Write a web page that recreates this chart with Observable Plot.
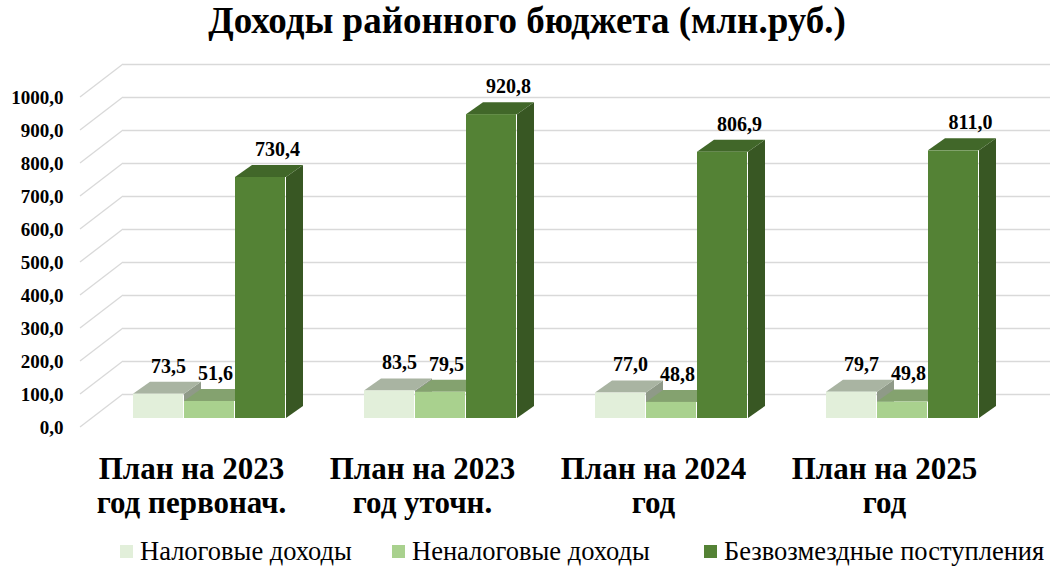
<!DOCTYPE html>
<html><head><meta charset="utf-8">
<script src="https://cdn.jsdelivr.net/npm/d3@7"></script>
<script src="https://cdn.jsdelivr.net/npm/@observablehq/plot@0.6"></script>
<style>
body{margin:0;background:#fff;width:1054px;height:575px;overflow:hidden;font-family:"Times New Roman",Times,"Liberation Serif",Tinos,"Nimbus Roman","Noto Serif","DejaVu Serif",serif;color:#000;}
#title{height:46px;line-height:42px;text-align:center;font-size:37px;font-weight:bold;}
#chart{height:485px;}
#legend{height:44px;position:relative;font-size:26.5px;}
#legend .item{position:absolute;top:0;height:40px;display:flex;align-items:center;white-space:nowrap;}
#legend .sw{width:13px;height:13px;margin-right:7px;}
#chart svg text{font-family:"Times New Roman",Times,"Liberation Serif",Tinos,"Nimbus Roman","Noto Serif","DejaVu Serif",serif;}
</style></head><body>
<div id="title">Доходы районного бюджета (млн.руб.)</div>
<div id="chart"></div>
<div id="legend"></div>
<script>
const categories = ["План на 2023\nгод первонач.", "План на 2023\nгод уточн.", "План на 2024\nгод", "План на 2025\nгод"];
const seriesNames = ["Налоговые доходы", "Неналоговые доходы", "Безвозмездные поступления"];
const taxRevenue = [73.5, 83.5, 77.0, 79.7];
const nonTaxRevenue = [51.6, 79.5, 48.8, 49.8];
const grantsRevenue = [730.4, 920.8, 806.9, 811.0];
const yTicks = [0, 100, 200, 300, 400, 500, 600, 700, 800, 900, 1000];

const frontColors = ["#e2efda", "#a9d18e", "#548235"];
const topColors = ["#a9b4a2", "#84a26f", "#416729"];
const sideColors = ["#8f9a88", "#6f8b5c", "#385723"];

const seriesValues = [taxRevenue, nonTaxRevenue, grantsRevenue];
const table = seriesValues.flatMap((vals, j) => vals.map((v, i) => ({cat: categories[i], series: seriesNames[j], j, value: v})));

const W = 51, DX = 12, DY = -9, BDX = 17, BDY = -12, WX = 43, WY = -33;
const labelDx = [-29, 18, 80];
const fmt = v => v.toFixed(1).replace(".", ",");

const marks = [
  Plot.ruleY(yTicks, {stroke: "#d9d9d9", strokeWidth: 1.3, dx: WX, dy: WY}),
  Plot.axisY({ticks: yTicks, tickSize: 0, tickPadding: 17, tickFormat: fmt, fontSize: 19, label: null}),
  Plot.axisX({tickSize: 0, tickPadding: 27, fontSize: 31, lineHeight: 1.1, dx: -6, label: null})
];
for (let j = 0; j < 3; j++) {
  marks.push(Plot.barY(table.filter(d => d.j === j), {x: "cat", y: "value", fill: frontColors[j], insetLeft: j * W, insetRight: (2 - j) * W, dx: DX, dy: DY}));
}
for (let j = 0; j < 3; j++) {
  marks.push(Plot.text(table.filter(d => d.j === j), {x: "cat", y: "value", text: d => fmt(d.value), dx: labelDx[j], dy: -37, fontSize: 20}));
}

const plot = Plot.plot({
  width: 1054, height: 485,
  marginTop: 51, marginBottom: 104, marginLeft: 80, marginRight: 47,
  style: {fontWeight: "bold", color: "#000", background: "#fff"},
  x: {domain: categories, paddingInner: 0.34, paddingOuter: 0.17, label: null},
  y: {domain: [0, 1000], label: null},
  marks
});
document.getElementById("chart").appendChild(plot);

// 3D decoration derived from the plot's scales
const xs = plot.scale("x"), ys = plot.scale("y");
const svg = d3.select(plot);
const x0 = xs.range[0];
const diag = svg.insert("g", () => plot.querySelector('g[aria-label="rule"]').nextSibling);
yTicks.forEach(v => {
  const yy = ys.apply(v);
  diag.append("line").attr("x1", x0).attr("y1", yy).attr("x2", x0 + WX).attr("y2", yy + WY)
    .attr("stroke", "#d9d9d9").attr("stroke-width", 1.3);
});
const barGroups = plot.querySelectorAll('g[aria-label="bar"]');
for (let j = 0; j < 3; j++) {
  const g = svg.insert("g", () => barGroups[j]);
  const vals = seriesValues[j];
  categories.forEach((c, i) => {
    const xl = xs.apply(c) + j * W + DX, xr = xl + W;
    const yt = ys.apply(vals[i]) + DY, yb = ys.apply(0) + DY;
    g.append("polygon").attr("points", [[xr, yt], [xr + BDX, yt + BDY], [xr + BDX, yb + BDY], [xr, yb]].join(" ")).attr("fill", sideColors[j]);
    g.append("polygon").attr("points", [[xl, yt], [xr, yt], [xr + BDX, yt + BDY], [xl + BDX, yt + BDY]].join(" ")).attr("fill", topColors[j]);
  });
}

// legend
const legendLeft = [120, 392, 704];
const legend = d3.select("#legend");
seriesNames.forEach((n, j) => {
  const it = legend.append("div").attr("class", "item").style("left", legendLeft[j] + "px");
  it.append("div").attr("class", "sw").style("background", frontColors[j]);
  it.append("span").text(n);
});
</script>
</body></html>
